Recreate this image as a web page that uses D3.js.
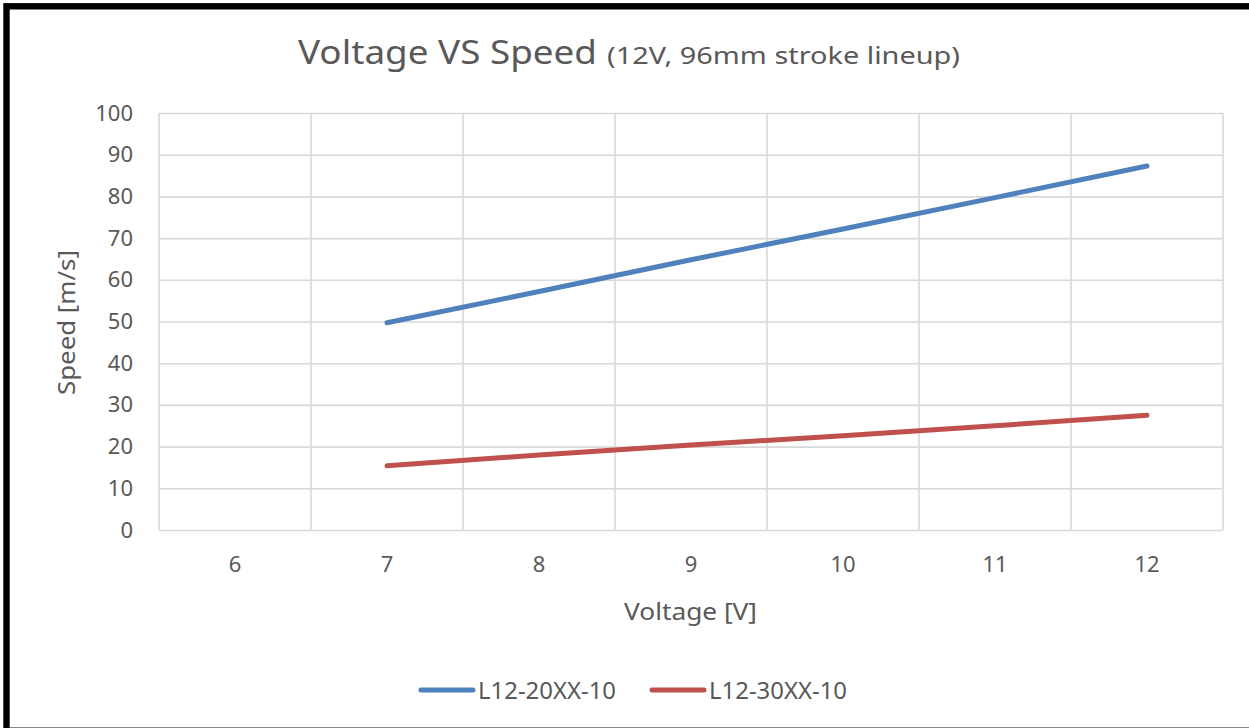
<!doctype html>
<html>
  <head>
    <meta charset="UTF-8"/>
    <title>Voltage VS Speed</title>
    <script src="https://d3js.org/d3.v7.min.js"></script>
    <style>
      body {
          margin: 0;
          padding: 0;
          background: #fff;
      }
      text {
          font-family: "Noto Sans", "Open Sans", sans-serif;
          fill: #595959;
      }
    </style>
  </head>
  <body>
    <svg id="chart" width="1249" height="728"></svg>
    <script>
      const voltages = ["6", "7", "8", "9", "10", "11", "12"];
      const speed20 = [null, 49.7, 57.2, 64.8, 72.2, 79.7, 87.3];
      const speed30 = [null, 15.4, 18.0, 20.4, 22.6, 25.0, 27.5];
      const yTicks = [0, 10, 20, 30, 40, 50, 60, 70, 80, 90, 100];
      const seriesNames = ["L12-20XX-10", "L12-30XX-10"];
      const seriesColors = ["#4F81BD", "#C0504D"];

      const FONT = '"Noto Sans", "Open Sans", sans-serif';
      const svg = d3.select("#chart");
      const plot = { left: 159, right: 1223, top: 113, bottom: 530 };

      // frame
      svg.append("rect").attr("width", 1249).attr("height", 728).attr("fill", "#fff");
      svg.append("rect")
        .attr("x", 6.5).attr("y", 6.3)
        .attr("width", 1300).attr("height", 760)
        .attr("fill", "none").attr("stroke", "#000").attr("stroke-width", 6.4);
      svg.append("line")
        .attr("x1", 10).attr("x2", 1249).attr("y1", 727.5).attr("y2", 727.5)
        .attr("stroke", "#888").attr("stroke-width", 1.2);

      const x = d3.scaleBand().domain(voltages).range([plot.left, plot.right]).paddingInner(0).paddingOuter(0);
      const y = d3.scaleLinear().domain([0, 100]).range([plot.bottom, plot.top]);

      // horizontal grid + y labels
      const yAxis = svg.append("g")
        .attr("transform", `translate(${plot.left},0)`)
        .call(d3.axisLeft(y).tickValues(yTicks).tickSize(-(plot.right - plot.left)).tickPadding(26));
      yAxis.select(".domain").remove();
      yAxis.selectAll("line").attr("stroke", "#D9D9D9").attr("stroke-width", 1.6);
      yAxis.selectAll("text")
        .attr("fill", "#595959").attr("font-size", 22)
        .style("font-family", FONT);

      // vertical grid at category boundaries
      svg.append("g").selectAll("line")
        .data(voltages.concat(["end"]))
        .join("line")
        .attr("x1", (d, i) => i < voltages.length ? x(d) : plot.right)
        .attr("x2", (d, i) => i < voltages.length ? x(d) : plot.right)
        .attr("y1", plot.top).attr("y2", plot.bottom)
        .attr("stroke", "#D9D9D9").attr("stroke-width", 1.6);

      // x labels
      const xAxis = svg.append("g")
        .attr("transform", `translate(0,${plot.bottom})`)
        .call(d3.axisBottom(x).tickSize(0).tickPadding(26));
      xAxis.select(".domain").remove();
      xAxis.selectAll("text")
        .attr("fill", "#595959").attr("font-size", 22)
        .style("font-family", FONT);

      // lines
      const line = d3.line()
        .defined(d => d.v !== null)
        .x(d => x(d.c) + x.bandwidth() / 2)
        .y(d => y(d.v));

      [speed20, speed30].forEach((s, i) => {
        svg.append("path")
          .datum(voltages.map((c, j) => ({ c: c, v: s[j] })))
          .attr("d", line)
          .attr("fill", "none")
          .attr("stroke", seriesColors[i])
          .attr("stroke-width", 5)
          .attr("stroke-linecap", "round")
          .attr("stroke-linejoin", "round");
      });

      // title
      svg.append("text").attr("x", 298).attr("y", 64)
        .attr("font-size", 33).attr("textLength", 299).attr("lengthAdjust", "spacingAndGlyphs")
        .text("Voltage VS Speed");
      svg.append("text").attr("x", 607).attr("y", 64)
        .attr("font-size", 23).attr("textLength", 353).attr("lengthAdjust", "spacingAndGlyphs")
        .text("(12V, 96mm stroke lineup)");

      // axis titles
      svg.append("text")
        .attr("x", 624).attr("y", 620)
        .attr("font-size", 24).attr("textLength", 133).attr("lengthAdjust", "spacingAndGlyphs")
        .text("Voltage [V]");
      svg.append("text")
        .attr("transform", `translate(75,395) rotate(-90)`)
        .attr("font-size", 24).attr("textLength", 145).attr("lengthAdjust", "spacingAndGlyphs")
        .text("Speed [m/s]");

      // legend
      const legendX = [419, 650];
      const legend = svg.append("g").selectAll("g")
        .data(seriesNames)
        .join("g")
        .attr("transform", (d, i) => `translate(${legendX[i]},690)`);
      legend.append("line")
        .attr("x1", 2).attr("x2", 54).attr("y1", 0).attr("y2", 0)
        .attr("stroke", (d, i) => seriesColors[i]).attr("stroke-width", 5)
        .attr("stroke-linecap", "round");
      legend.append("text")
        .attr("x", 59).attr("y", 9)
        .attr("font-size", 24).attr("textLength", 138).attr("lengthAdjust", "spacingAndGlyphs")
        .text(d => d);
    </script>
  </body>
</html>
